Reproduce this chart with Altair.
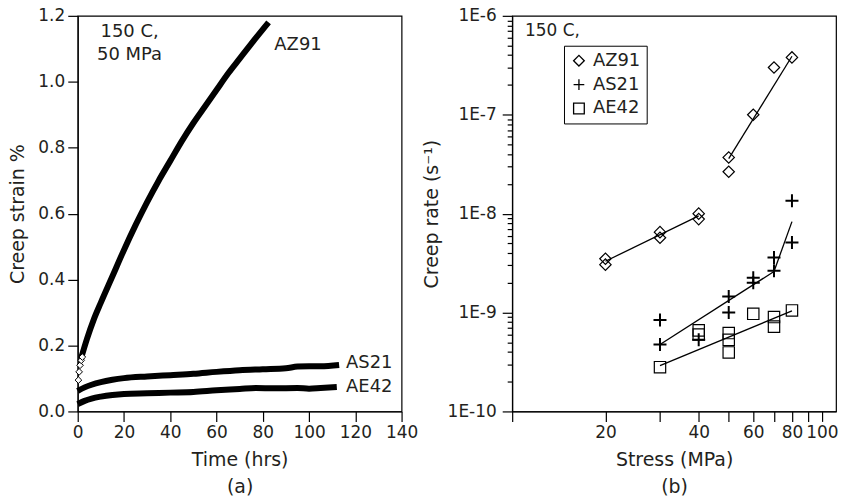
import altair as alt
import pandas as pd

FONT = "DejaVu Sans"
INK = "#231f20"
FS_TICK = 17
FS_TITLE = 19
FS_NOTE = 18

# ---------- (a) creep strain vs time ----------
az91_t = [1.4, 4, 7, 10, 15, 20, 25, 30, 35, 40, 45, 50, 55, 60, 65, 70, 75, 82.5]
az91_s = [0.16, 0.22, 0.28, 0.33, 0.41, 0.49, 0.565, 0.635, 0.70, 0.76, 0.82, 0.875,
          0.925, 0.975, 1.025, 1.07, 1.115, 1.18]
as21_t = [0, 3, 6, 10, 15, 20, 30, 40, 50, 60, 70, 80, 90, 95, 100, 105, 113]
as21_s = [0.062, 0.073, 0.081, 0.089, 0.096, 0.101, 0.106, 0.110, 0.114, 0.120, 0.125,
          0.128, 0.131, 0.136, 0.137, 0.137, 0.141]
ae42_t = [0, 3, 6, 10, 15, 20, 30, 40, 50, 60, 70, 77, 85, 95, 100, 105, 112]
ae42_s = [0.022, 0.032, 0.039, 0.045, 0.050, 0.053, 0.055, 0.057, 0.059, 0.064, 0.068,
          0.071, 0.070, 0.071, 0.069, 0.071, 0.074]
early_t = [0.3, 0.6, 1.0, 1.5, 2.0]
early_s = [0.095, 0.12, 0.14, 0.155, 0.165]

cond_text = ["150 C,", "50 MPa"]
cond_x = [22.4, 22.4]
cond_y = [1.152, 1.082]
curve_labels = ["AZ91", "AS21", "AE42"]
curve_label_x = [85, 116, 116]
curve_label_y = [1.112, 0.146, 0.0735]

# ---------- (b) creep rate vs stress ----------
alloys = ["AZ91", "AS21", "AE42"]
az91_stress = [20, 20, 30, 30, 40, 40, 50, 50, 60, 70, 80]
az91_rate = [3.5e-9, 3.05e-9, 6.5e-9, 5.7e-9, 1.0e-8, 8.8e-9, 3.7e-8, 2.65e-8, 1.0e-7, 3.0e-7, 3.8e-7]
as21_stress = [30, 30, 40, 50, 50, 60, 60, 70, 70, 80, 80]
as21_rate = [8.4e-10, 4.75e-10, 5.3e-10, 1.45e-9, 1.0e-9, 2.25e-9, 2.0e-9, 3.6e-9, 2.65e-9, 1.35e-8, 5.1e-9]
ae42_stress = [30, 40, 40, 50, 50, 50, 60, 70, 70, 80]
ae42_rate = [2.8e-10, 6.6e-10, 6.0e-10, 6.2e-10, 5.3e-10, 3.95e-10, 9.7e-10, 9.0e-10, 7.2e-10, 1.05e-9]

fit_id = ["az_lo", "az_lo", "az_hi", "az_hi", "as_lo", "as_lo", "as_hi", "as_hi", "ae", "ae"]
fit_stress = [20, 40, 50, 80, 30, 70, 70, 80, 30, 80]
fit_rate = [3.3e-9, 9.5e-9, 3.6e-8, 3.9e-7, 4.75e-10, 2.6e-9, 2.6e-9, 8.3e-9, 2.9e-10, 1.04e-9]

x_ticks_b = [10, 20, 30, 40, 50, 60, 70, 80, 90, 100]
x_labels_b = [20, 40, 60, 80, 100]
y_ticks_b = [m * 10.0 ** e for e in range(-10, -6) for m in range(1, 10)] + [1e-6]

# ---------- tables ----------
curves = pd.DataFrame({
    "t": az91_t + as21_t + ae42_t,
    "s": az91_s + as21_s + ae42_s,
    "alloy": ["AZ91"] * len(az91_t) + ["AS21"] * len(as21_t) + ["AE42"] * len(ae42_t),
})
early = pd.DataFrame({"t": early_t, "s": early_s})
cond = pd.DataFrame({"txt": cond_text, "t": cond_x, "s": cond_y})
clab = pd.DataFrame({"txt": curve_labels, "t": curve_label_x, "s": curve_label_y})

pts = pd.DataFrame({
    "stress": az91_stress + as21_stress + ae42_stress,
    "rate": az91_rate + as21_rate + ae42_rate,
    "alloy": ["AZ91"] * len(az91_stress) + ["AS21"] * len(as21_stress) + ["AE42"] * len(ae42_stress),
})
fits = pd.DataFrame({"seg": fit_id, "stress": fit_stress, "rate": fit_rate})
note_b = pd.DataFrame({"txt": ["150 C,"], "stress": [11.0], "rate": [7.0e-7]})

W, H = 325, 397

xa = alt.X("t:Q", scale=alt.Scale(domain=[0, 140], nice=False),
           axis=alt.Axis(values=list(range(0, 141, 20)), title=["Time (hrs)", "(a)"],
                         labelOverlap=False, titleLineHeight=27, titlePadding=10))
ya = alt.Y("s:Q", scale=alt.Scale(domain=[0, 1.2], nice=False),
           axis=alt.Axis(values=[round(i * 0.1, 1) for i in range(13)], format=".1f",
                         title="Creep strain %", titlePadding=10, labelOverlap=False))

lines_a = alt.Chart(curves).mark_line(color="black", strokeWidth=6, strokeCap="butt",
                                      interpolate="monotone").encode(
    x=xa, y=ya, detail="alloy:N", order="t:Q")
early_a = alt.Chart(early).mark_point(shape="diamond", filled=True, fill="white",
                                      stroke="black", strokeWidth=1, size=45, opacity=1).encode(
    x="t:Q", y="s:Q")
cond_a = alt.Chart(cond).mark_text(font=FONT, fontSize=FS_NOTE, color=INK, align="center").encode(
    x="t:Q", y="s:Q", text="txt:N")
clab_a = alt.Chart(clab).mark_text(font=FONT, fontSize=FS_NOTE, color=INK, align="left").encode(
    x="t:Q", y="s:Q", text="txt:N")

panel_a = alt.layer(lines_a, early_a, cond_a, clab_a).properties(width=W, height=H)

decade_test = "abs(log(datum.value)/LN10 - round(log(datum.value)/LN10)) < 1e-6"
xb = alt.X("stress:Q", scale=alt.Scale(type="log", domain=[10, 111], nice=False),
           axis=alt.Axis(values=x_ticks_b, title=["Stress (MPa)", "(b)"], labelOverlap=False,
                         labelExpr="indexof([20,40,60,80,100], datum.value) >= 0 ? datum.label : ''",
                         titleLineHeight=27, titlePadding=10))
yb = alt.Y("rate:Q", scale=alt.Scale(type="log", domain=[1e-10, 1e-6], nice=False),
           axis=alt.Axis(values=y_ticks_b, title="Creep rate (s⁻¹)", titlePadding=6,
                         labelOverlap=False, labelPadding=6,
                         labelExpr=f"{decade_test} ? '1E' + round(log(datum.value)/LN10) : ''",
                         tickSize={"condition": {"test": decade_test, "value": 10}, "value": 5}))

shape_enc = alt.Shape(
    "alloy:N",
    scale=alt.Scale(domain=alloys, range=["diamond", "M-1,0L1,0M0,-1L0,1", "square"]),
    legend=alt.Legend(title=None, orient="none", legendX=52, legendY=30,
                      strokeColor="black", padding=6, rowPadding=6, labelOffset=5,
                      labelFont=FONT, labelFontSize=FS_NOTE, labelColor=INK,
                      symbolSize=115, symbolStrokeColor="black",
                      symbolStrokeWidth=1.3, symbolFillColor="white"))

fit_b = alt.Chart(fits).mark_line(color="black", strokeWidth=1.3).encode(
    x=xb, y=yb, detail="seg:N")
open_b = alt.Chart(pts).transform_filter("datum.alloy != 'AS21'").mark_point(
    filled=False, color="black", opacity=1, size=130, strokeWidth=1.2).encode(
    x="stress:Q", y="rate:Q", shape=shape_enc)
plus_b = alt.Chart(pts).transform_filter("datum.alloy == 'AS21'").mark_point(
    filled=False, color="black", opacity=1, size=170, strokeWidth=2).encode(
    x="stress:Q", y="rate:Q", shape=shape_enc)
note_bb = alt.Chart(note_b).mark_text(font=FONT, fontSize=FS_TICK, color=INK, align="left").encode(
    x="stress:Q", y="rate:Q", text="txt:N")

panel_b = alt.layer(fit_b, open_b, plus_b, note_bb).properties(width=W, height=H)

chart = alt.hconcat(panel_a, panel_b, spacing=3).resolve_scale(
    x="independent", y="independent", shape="independent"
).resolve_legend(shape="independent"
).properties(padding={"left": 8, "top": 5, "right": 5, "bottom": 2}, background="white"
).configure_axis(
    grid=False, domainColor="black", domainWidth=1.2, tickColor="black", tickWidth=1.2,
    tickSize=10, labelFont=FONT, labelFontSize=FS_TICK, labelColor=INK, labelPadding=3,
    labelFlush=False,
    titleFont=FONT, titleFontSize=FS_TITLE, titleColor=INK, titleFontWeight="normal",
).configure_view(stroke="black", strokeWidth=1.2)

chart.save("out.html", embed_options={"renderer": "svg", "actions": False})
